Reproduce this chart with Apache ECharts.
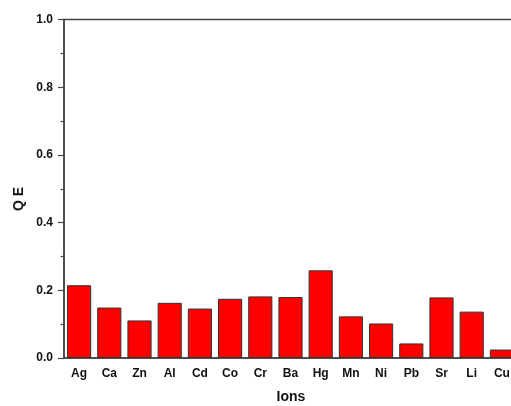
<!DOCTYPE html>
<html><head><meta charset="utf-8">
<script src="https://cdn.jsdelivr.net/npm/echarts@6/dist/echarts.min.js"></script>
<style>html,body{margin:0;padding:0;background:#fff}#c{width:511px;height:406px}</style>
</head><body><div id="c"></div>
<script>
var categories = ['Ag','Ca','Zn','Al','Cd','Co','Cr','Ba','Hg','Mn','Ni','Pb','Sr','Li','Cu'];
var qeValues = [0.215,0.149,0.111,0.163,0.146,0.175,0.182,0.180,0.259,0.123,0.102,0.043,0.179,0.137,0.025];
var yTicks = [0, 0.2, 0.4, 0.6, 0.8, 1.0];
var xTitle = 'Ions';
var yTitle = 'Q E';

var chart = echarts.init(document.getElementById('c'));
var font = 'Liberation Sans, Arial, sans-serif';
var axisCol = '#444';
chart.setOption({
  animation: false,
  grid: {left: 64, top: 19.5, width: 453, height: 338.5, outerBoundsMode: 'none', containLabel: false,
    show: true, borderColor: axisCol, borderWidth: 1.5, backgroundColor: 'transparent'},
  xAxis: [{
    type: 'category', data: categories, position: 'bottom',
    axisLine: {lineStyle: {color: axisCol, width: 1.5}},
    axisTick: {alignWithLabel: true, length: 6, lineStyle: {color: axisCol, width: 1.2}},
    axisLabel: {color: '#111', fontFamily: font, fontWeight: 'bold', fontSize: 12, margin: 10, interval: 0}
  },{
    type: 'category', data: categories, position: 'bottom', gridIndex: 0,
    axisLine: {show: false},
    axisTick: {alignWithLabel: false, length: 6, lineStyle: {color: axisCol, width: 1.2}},
    axisLabel: {show: false}
  }],
  yAxis: {
    type: 'value', min: 0, max: 1.0, interval: 0.2,
    axisLine: {show: true, lineStyle: {color: axisCol, width: 1.5}},
    axisTick: {show: true, length: 6, lineStyle: {color: axisCol, width: 1.2}},
    minorTick: {show: true, splitNumber: 2, length: 3.5, lineStyle: {color: axisCol, width: 1.2}},
    splitLine: {show: false},
    axisLabel: {color: '#111', fontFamily: font, fontWeight: 'bold', fontSize: 12, margin: 11,
      formatter: function(v){ return v.toFixed(1); }}
  },
  graphic: [
    {type: 'text', x: 19, y: 199, rotation: Math.PI/2, style: {text: yTitle, font: 'bold 14px ' + font, fill: '#111', align: 'center', verticalAlign: 'middle'}},
    {type: 'text', x: 291, y: 397, style: {text: xTitle, font: 'bold 14px ' + font, fill: '#111', align: 'center', verticalAlign: 'middle'}}
  ],
  series: [{
    type: 'bar', data: qeValues, barCategoryGap: '20%',
    itemStyle: {color: '#ff0000', borderColor: '#333', borderWidth: 1}
  }]
});
</script></body></html>
